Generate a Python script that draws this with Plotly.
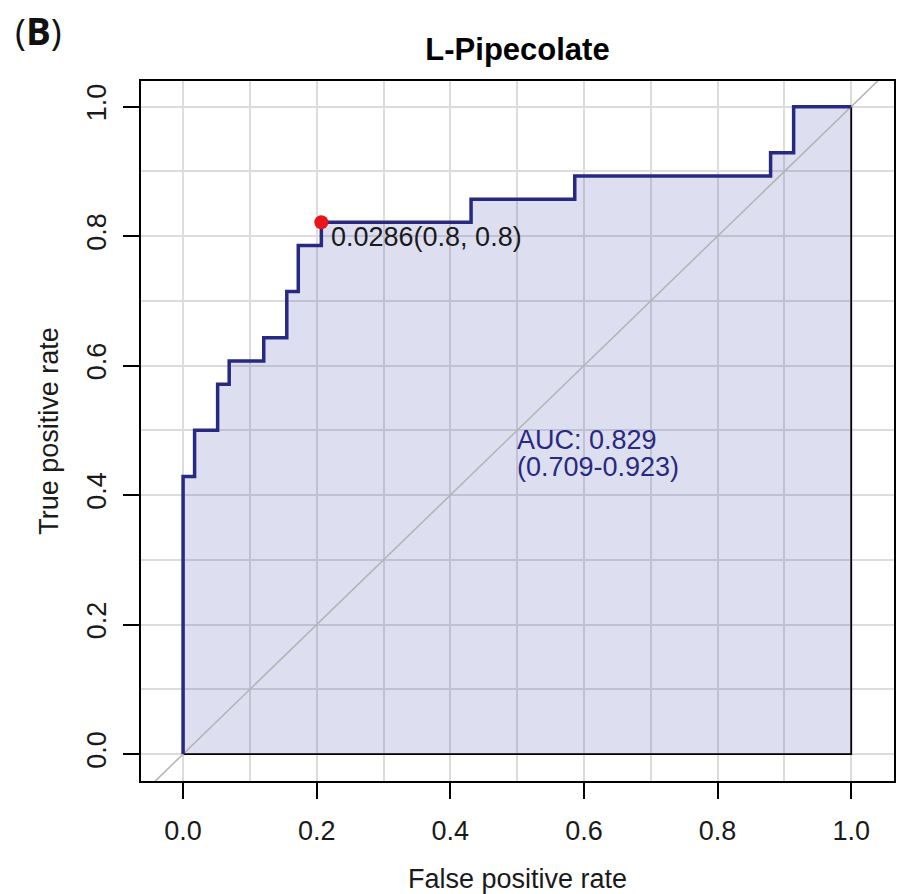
import plotly.graph_objects as go

# ---- data ----
fpr = [0.0, 0.0, 0.0172, 0.0517, 0.0690, 0.1207, 0.1552, 0.1724, 0.2069,
       0.4310, 0.5862, 0.8793, 0.9138, 1.0]
tpr = [0.0, 0.4286, 0.5000, 0.5714, 0.6071, 0.6429, 0.7143, 0.7857, 0.8214,
       0.8571, 0.8929, 0.9286, 1.0000, 1.0]
best_fpr = 0.2069
best_tpr = 0.8214
best_label = "0.0286(0.8, 0.8)"
auc_line1 = "AUC: 0.829"
auc_line2 = "(0.709-0.923)"
auc_pos = (0.5, 0.5)
title = "L-Pipecolate"
panel = "B"
xlabel = "False positive rate"
ylabel = "True positive rate"
major_ticks = [0.0, 0.2, 0.4, 0.6, 0.8, 1.0]
minor_ticks = [0.1, 0.3, 0.5, 0.7, 0.9]
tick_text = ["0.0", "0.2", "0.4", "0.6", "0.8", "1.0"]
xrange = [-0.063, 1.064]
yrange = [-0.0416, 1.0396]

FONT = "Liberation Sans, Arial, sans-serif"
NAVY = "#272a80"
GRID = "#dcdcdc"
FS = 27

fig = go.Figure()

# AUC polygon (filled, black border)
fig.add_trace(go.Scatter(
    x=fpr + [1.0, 0.0], y=tpr + [0.0, 0.0],
    mode="lines", line=dict(color="black", width=1.8, shape="hv"),
    fill="toself", fillcolor="rgba(70,70,180,0.18)",
    hoverinfo="skip", showlegend=False))

# diagonal reference line across the full axis range
lo = min(xrange[0], yrange[0]) - 0.1
hi = max(xrange[1], yrange[1]) + 0.1
fig.add_trace(go.Scatter(
    x=[lo, hi], y=[lo, hi], mode="lines",
    line=dict(color="#b3b3b3", width=1.5),
    hoverinfo="skip", showlegend=False))

# ROC curve
fig.add_trace(go.Scatter(
    x=fpr, y=tpr, mode="lines",
    line=dict(color=NAVY, width=3.5, shape="hv"),
    showlegend=False))

# best threshold point
fig.add_trace(go.Scatter(
    x=[best_fpr], y=[best_tpr], mode="markers",
    marker=dict(color="#e8161c", size=14, line=dict(width=0)),
    showlegend=False))

fig.add_annotation(x=best_fpr, y=best_tpr, xref="x", yref="y",
                   text=best_label, showarrow=False,
                   xanchor="left", yanchor="middle", xshift=8, yshift=-15,
                   font=dict(family=FONT, size=FS, color="#1a1a1a"))
fig.add_annotation(x=auc_pos[0], y=auc_pos[1], xref="x", yref="y",
                   text=auc_line1, showarrow=False,
                   xanchor="left", yanchor="middle", xshift=-2, yshift=-10,
                   font=dict(family=FONT, size=FS, color=NAVY))
fig.add_annotation(x=auc_pos[0], y=auc_pos[1], xref="x", yref="y",
                   text=auc_line2, showarrow=False,
                   xanchor="left", yanchor="middle", xshift=-2, yshift=-37,
                   font=dict(family=FONT, size=FS, color=NAVY))
fig.add_annotation(x=-0.170, y=1.072, xref="paper", yref="paper",
                   text="(<b>" + panel + "</b>)", showarrow=False,
                   xanchor="left", yanchor="middle",
                   font=dict(family="Open Sans, sans-serif", size=37, color="#111"))

axis_common = dict(
    tickvals=major_ticks, ticktext=tick_text,
    showgrid=True, gridcolor=GRID, gridwidth=1.5,
    minor=dict(tickvals=minor_ticks, showgrid=True, gridcolor=GRID,
               gridwidth=1.5, ticks=""),
    zeroline=False, showline=True, mirror=True, linecolor="black",
    linewidth=1.8, ticks="outside", ticklen=16, tickwidth=1.5,
    tickcolor="black",
    tickfont=dict(family=FONT, size=FS, color="#1a1a1a"),
)

fig.update_layout(
    width=899, height=894,
    margin=dict(l=141, r=3, t=81, b=111),
    paper_bgcolor="white", plot_bgcolor="white",
    title=dict(text="<b>" + title + "</b>", x=0.5, xref="paper",
               xanchor="center",
               y=1 - 49 / 894, yanchor="middle", yref="container",
               font=dict(family=FONT, size=31, color="black")),
    xaxis=dict(range=xrange, **axis_common, ticklabelstandoff=9,
               title=dict(text=xlabel, standoff=26,
                          font=dict(family=FONT, size=FS, color="#1a1a1a"))),
    yaxis=dict(range=yrange, **axis_common, tickangle=-90, ticklabelstandoff=6,
               title=dict(text=ylabel, standoff=16,
                          font=dict(family=FONT, size=FS, color="#1a1a1a"))),
)

fig.write_html("out.html")
